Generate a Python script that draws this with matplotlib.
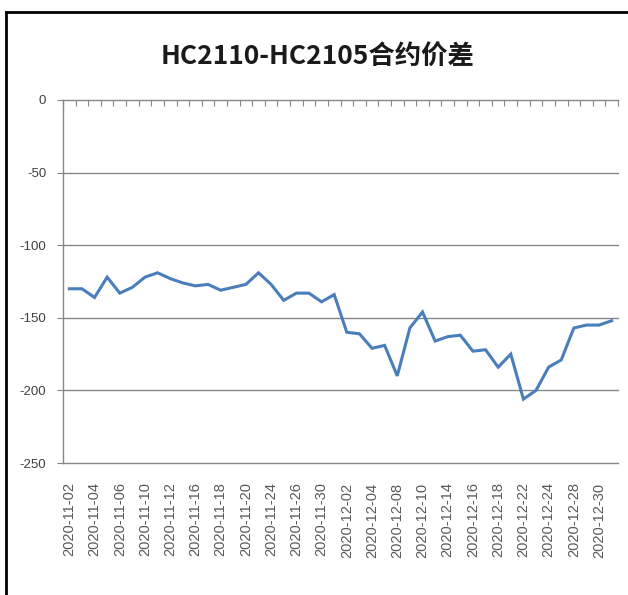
import numpy as np
import matplotlib
matplotlib.use("Agg")
import matplotlib.pyplot as plt
from matplotlib.lines import Line2D

title = "HC2110-HC2105合约价差"
dates = ["2020-11-02", "2020-11-03", "2020-11-04", "2020-11-05", "2020-11-06",
         "2020-11-09", "2020-11-10", "2020-11-11", "2020-11-12", "2020-11-13",
         "2020-11-16", "2020-11-17", "2020-11-18", "2020-11-19", "2020-11-20",
         "2020-11-23", "2020-11-24", "2020-11-25", "2020-11-26", "2020-11-27",
         "2020-11-30", "2020-12-01", "2020-12-02", "2020-12-03", "2020-12-04",
         "2020-12-07", "2020-12-08", "2020-12-09", "2020-12-10", "2020-12-11",
         "2020-12-14", "2020-12-15", "2020-12-16", "2020-12-17", "2020-12-18",
         "2020-12-21", "2020-12-22", "2020-12-23", "2020-12-24", "2020-12-25",
         "2020-12-28", "2020-12-29", "2020-12-30", "2020-12-31"]
spread = [-130, -130, -136, -122, -133, -129, -122, -119, -123, -126,
          -128, -127, -131, -129, -127, -119, -127, -138, -133, -133,
          -139, -134, -160, -161, -171, -169, -190, -157, -146, -166,
          -163, -162, -173, -172, -184, -175, -206, -200, -184, -179,
          -157, -155, -155, -152]
yticks = [0, -50, -100, -150, -200, -250]

fig = plt.figure(figsize=(6.28, 5.95), dpi=100)
ax = fig.add_axes([63/628, 1-463/595, (618-63)/628, (463-100)/595])

x = np.arange(len(dates))
ax.plot(x, spread, color="#4a7ebb", lw=2.2, solid_joinstyle="miter", zorder=3)

ax.set_xlim(-0.5, len(dates) - 0.5)
ax.set_ylim(-250, 0)
ax.set_yticks(yticks)
ax.set_yticklabels([str(v) for v in yticks], fontfamily="Liberation Sans",
                   fontsize=9.5, color="#404040")
ax.tick_params(axis="y", length=4, width=0.8, color="#868686", pad=8)
for v in yticks[1:]:
    ax.axhline(v, color="#868686", lw=1.0, zorder=1, clip_on=False)

ax.set_xticks(x[::2])
ax.set_xticklabels(dates[::2], rotation=90, fontfamily="Liberation Sans",
                   fontsize=10.5, color="#595959", va="top")
ax.tick_params(axis="x", which="major", length=0, pad=14)
ax.set_xticks(np.arange(-0.5, len(dates), 1), minor=True)
ax.tick_params(axis="x", which="minor", bottom=False, top=True, direction="in",
               length=4, width=0.8, color="#868686")

for s in ["right", "bottom"]:
    ax.spines[s].set_visible(False)
ax.spines["left"].set_color("#868686")
ax.spines["top"].set_color("#868686")
ax.spines["left"].set_linewidth(1.0)
ax.spines["top"].set_linewidth(1.0)

fig.text(318/628, 1-65/595, title, ha="center", va="baseline",
         fontfamily=["Noto Sans CJK SC", "DejaVu Sans"], fontsize=19,
         fontweight="bold", color="#1a1a1a")

# outer chart frame (top and left edges visible)
fig.add_artist(Line2D([6/628, 1.0], [1-11.5/595, 1-11.5/595],
                      transform=fig.transFigure, color="black", lw=2.0))
fig.add_artist(Line2D([6/628, 6/628], [0, 1-11.5/595],
                      transform=fig.transFigure, color="black", lw=2.0))

fig.savefig("out.png", dpi=100, facecolor="white")
